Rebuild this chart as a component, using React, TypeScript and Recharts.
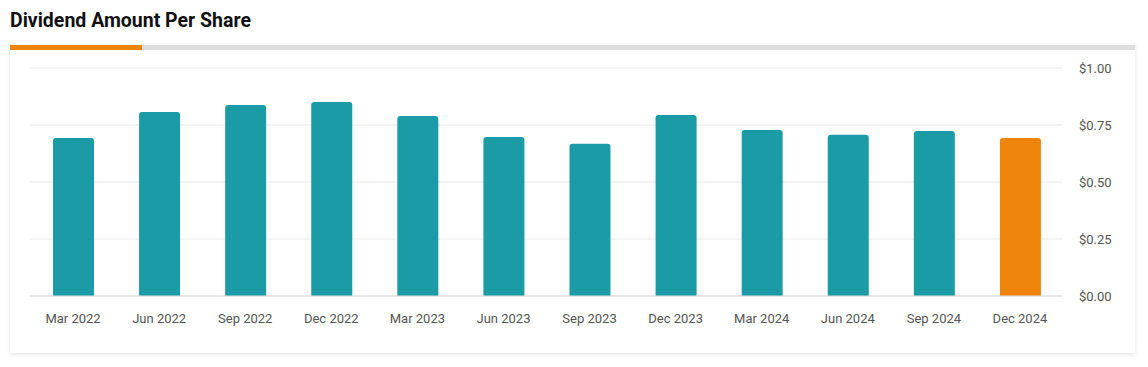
import React from "react";
import { BarChart, Bar, XAxis, YAxis, CartesianGrid, Cell } from "recharts";

const quarters = ["Mar 2022", "Jun 2022", "Sep 2022", "Dec 2022", "Mar 2023", "Jun 2023", "Sep 2023", "Dec 2023", "Mar 2024", "Jun 2024", "Sep 2024", "Dec 2024"];
const dividends = [0.693, 0.807, 0.838, 0.851, 0.789, 0.697, 0.668, 0.794, 0.728, 0.707, 0.724, 0.693];
const yTicks = [0, 0.25, 0.5, 0.75, 1.0];

const data = quarters.map((q, i) => ({ q, v: dividends[i] }));

export default function App() {
  return (
    <div style={{ position: "absolute", left: 0, top: 0, width: 1148, height: 367, background: "#fff", fontFamily: "Roboto, sans-serif" }}>
      <div style={{ position: "absolute", left: 10, top: 9, fontSize: 19.5, fontWeight: 700, color: "#111", lineHeight: "23px" }}>
        Dividend Amount Per Share
      </div>
      <div style={{ position: "absolute", left: 10, top: 45, width: 1125, height: 308, background: "#fff", boxShadow: "0 1px 4px rgba(0,0,0,0.12)" }}>
        <div style={{ position: "absolute", left: 0, top: 0, width: 1125, height: 5, background: "#dddddd" }} />
        <div style={{ position: "absolute", left: 0, top: 0, width: 132, height: 5, background: "#ee850a" }} />
        <div style={{ position: "absolute", left: 0, top: 5 }}>
          <BarChart width={1125} height={300} data={data} margin={{ top: 18, right: 0, left: 20, bottom: 14 }}>
            <CartesianGrid vertical={false} stroke="#e8e8e8" />
            <XAxis dataKey="q" tickLine={false} axisLine={{ stroke: "#dddddd" }} tick={{ fill: "#555", fontSize: 13 }} tickMargin={12} height={40} interval={0} />
            <YAxis orientation="right" domain={[0, 1]} ticks={yTicks} tickFormatter={(v: number) => `$${v.toFixed(2)}`} tickLine={false} axisLine={false} tick={{ fill: "#555", fontSize: 13 }} tickMargin={10} width={72} />
            <Bar dataKey="v" barSize={41} radius={[3, 3, 0, 0]} isAnimationActive={false}>
              {data.map((d, i) => (
                <Cell key={d.q} fill={i === data.length - 1 ? "#ee850a" : "#1a9ba6"} />
              ))}
            </Bar>
          </BarChart>
        </div>
      </div>
    </div>
  );
}
